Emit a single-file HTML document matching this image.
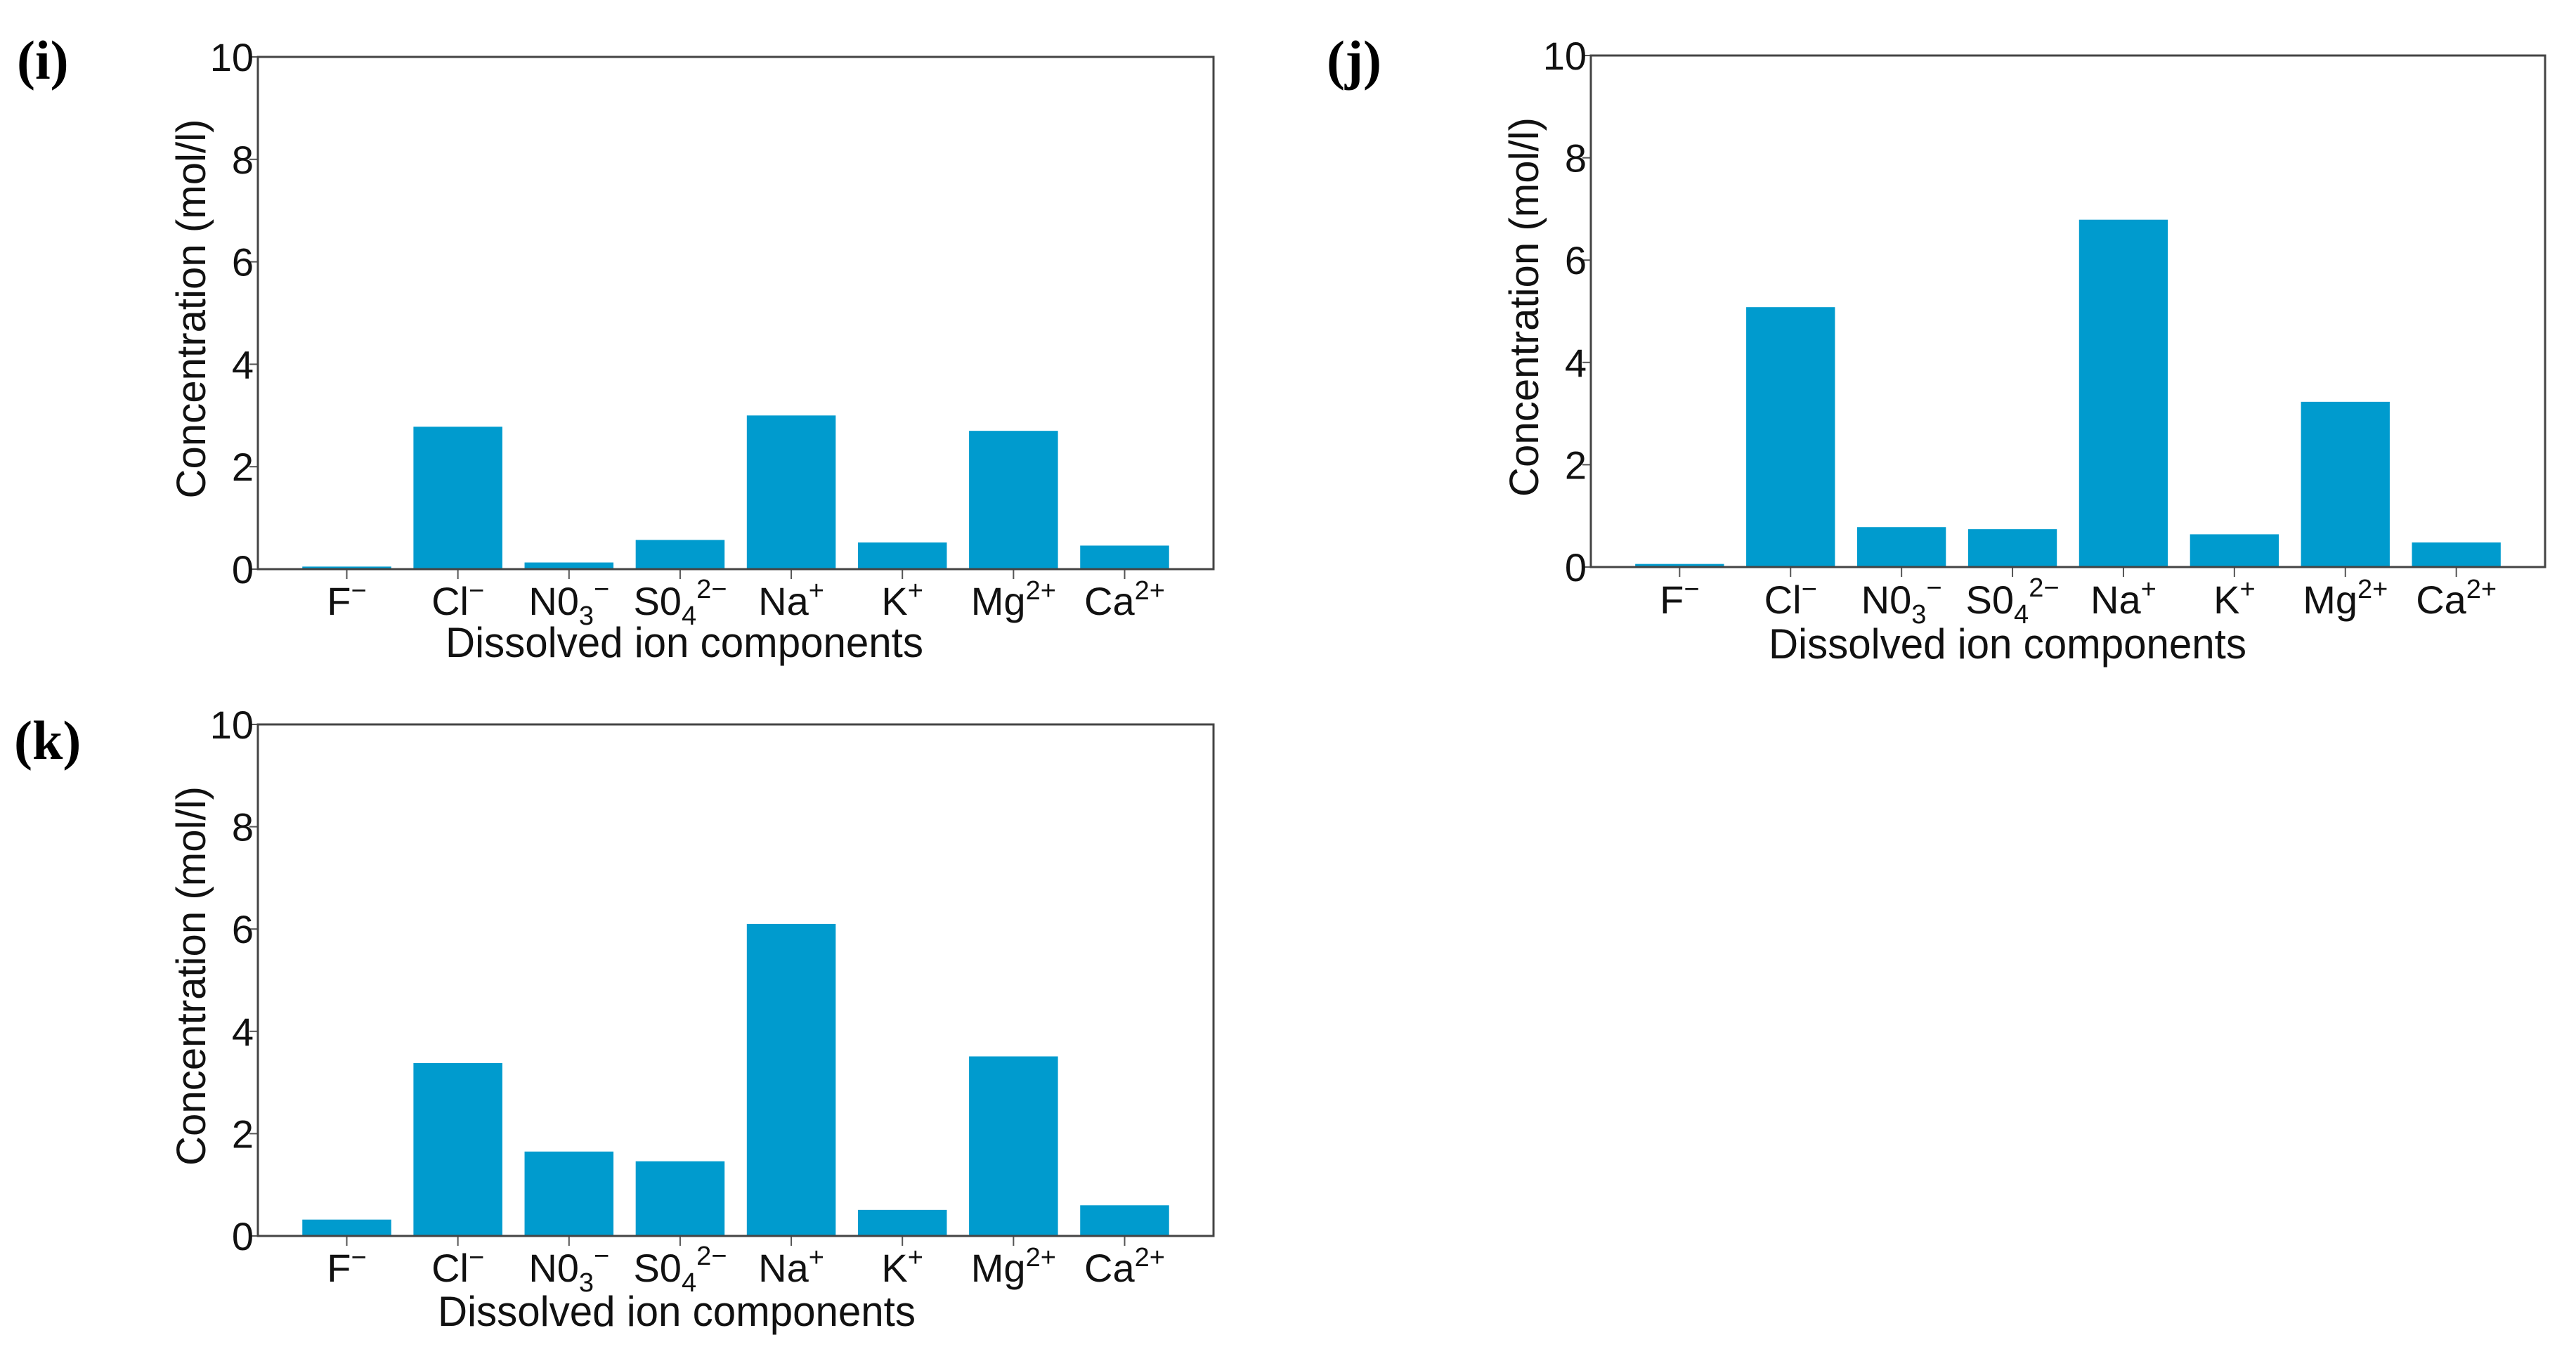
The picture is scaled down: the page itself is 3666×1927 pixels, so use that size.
<!DOCTYPE html>
<html><head><meta charset="utf-8">
<style>html,body{margin:0;padding:0;background:#fff;}svg{display:block;}</style>
</head><body>
<svg id="fig" width="3666" height="1927" viewBox="0 0 3666 1927" xmlns="http://www.w3.org/2000/svg">
<rect width="3666" height="1927" fill="#fff"/>
</svg>
<script>
const categories = ["F","Cl","NO3","SO4","Na","K","Mg","Ca"];
const valuesI = [0.05, 2.78, 0.13, 0.57, 3.0, 0.52, 2.7, 0.46];
const valuesJ = [0.06, 5.08, 0.78, 0.74, 6.79, 0.64, 3.23, 0.48];
const valuesK = [0.32, 3.38, 1.65, 1.46, 6.1, 0.51, 3.51, 0.6];
const yTicks = [0, 2, 4, 6, 8, 10];
const tickLabelParts = [["F","−",""],["Cl","−",""],["N0","−","3"],["S0","2−","4"],["Na","+",""],["K","+",""],["Mg","2+",""],["Ca","2+",""]];

const NS = "http://www.w3.org/2000/svg";
const svg = document.getElementById("fig");
function mk(tag, attrs, parent) {
  const e = document.createElementNS(NS, tag);
  for (const k in attrs) e.setAttribute(k, attrs[k]);
  (parent || svg).appendChild(e);
  return e;
}

function panel(id, label, values, L, R, T, B, labelX, labelY, tickBase, titleX, titleBase) {
  const g = mk("g", {});
  
  
  const xMin = -0.8, xMax = 7.8;
  const xs = v => L + (v - xMin) / (xMax - xMin) * (R - L);
  const ys = v => B - v / 10 * (B - T);
  const pl = mk("text", {x: labelX, y: labelY, "font-family": "Liberation Serif, serif", "font-weight": "bold", "font-size": 78, fill: "#000"}, g);
  pl.textContent = "(" + label + ")";
  
  
  values.forEach((v, i) => {
    const x0 = xs(i - 0.4), x1 = xs(i + 0.4);
    const r = mk("rect", {x: x0, y: ys(v), width: x1 - x0, height: ys(0) - ys(v), fill: "#009bce"}, g);
    
    
    const tk = mk("line", {x1: xs(i), x2: xs(i), y1: B, y2: B + 14, stroke: "#555", "stroke-width": 2}, g);
    
    
    const p = tickLabelParts[i];
    const t = mk("text", {x: xs(i), y: tickBase, "text-anchor": "middle", "font-family": "Liberation Sans Narrow, Liberation Sans, sans-serif", "font-size": 56, fill: "#111"}, g);
    
    
    const a = mk("tspan", {}, t); a.textContent = p[0];
    if (p[2]) { const s = mk("tspan", {dy: 14, "font-size": 38}, t); s.textContent = p[2]; const u = mk("tspan", {dy: -38, "font-size": 38}, t); u.textContent = p[1]; }
    else { const u = mk("tspan", {dy: -22, "font-size": 38}, t); u.textContent = p[1]; }
  });
  yTicks.forEach(v => {
    const tk = mk("line", {x1: L - 12, x2: L, y1: ys(v), y2: ys(v), stroke: "#555", "stroke-width": 2}, g);
    
    
    const t = mk("text", {x: L - 6, y: ys(v) + 20, "text-anchor": "end", "font-family": "Liberation Sans Narrow, Liberation Sans, sans-serif", "font-size": 56, fill: "#111"}, g);
    t.textContent = String(v);
    
    
  });
  const fr = mk("rect", {x: L, y: T, width: R - L, height: B - T, fill: "none", stroke: "#444", "stroke-width": 3}, g);
  
  
  const cy = (T + B) / 2 - 6;
  const yt = mk("text", {x: 0, y: 0, transform: "translate(" + (L - 75) + "," + cy + ") rotate(-90)", "text-anchor": "middle", "font-family": "Liberation Sans, sans-serif", "font-size": 58, fill: "#111", textLength: 540, lengthAdjust: "spacingAndGlyphs"}, g);
  yt.textContent = "Concentration (mol/l)";
  
  
  const xt = mk("text", {x: titleX, y: titleBase, "text-anchor": "middle", "font-family": "Liberation Sans Narrow, Liberation Sans, sans-serif", "font-size": 60, fill: "#111", textLength: 680, lengthAdjust: "spacingAndGlyphs"}, g);
  xt.textContent = "Dissolved ion components";
  
  
}

panel("i", "i", valuesI, 367, 1727, 81, 810, 24, 112, 875, 974, 935);
panel("j", "j", valuesJ, 2264, 3622, 79, 807, 1888, 112, 873, 2857, 937);
panel("k", "k", valuesK, 367, 1727, 1031, 1759, 20, 1080, 1824, 963, 1887);
</script>
</body></html>
